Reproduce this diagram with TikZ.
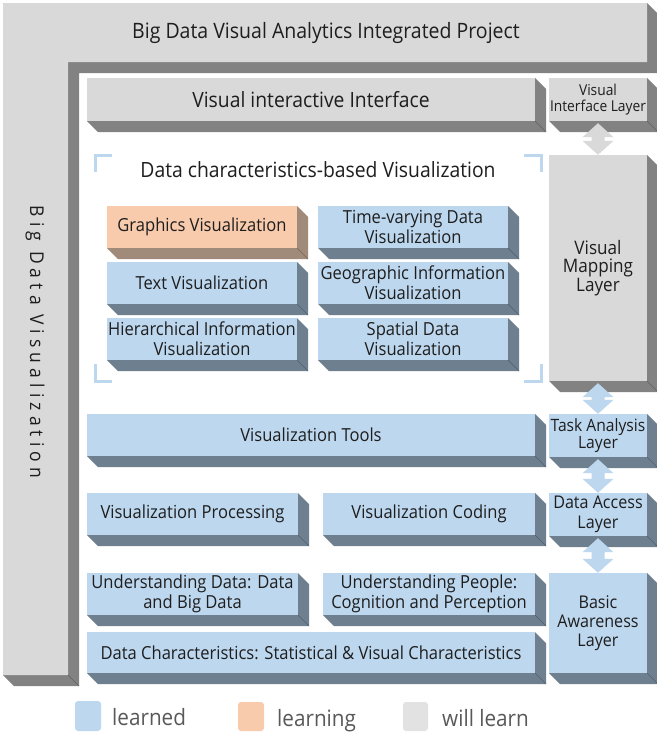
\documentclass[tikz,border=0pt]{standalone}
\usepackage{fontspec}
\setmainfont{Open Sans}[FakeStretch=0.92]
\newfontfamily\spacedfont{Open Sans}[FakeStretch=0.92,LetterSpace=27]
\usetikzlibrary{calc}
\definecolor{bluef}{HTML}{BDD7EE}
\definecolor{blues}{HTML}{6E7F8F}
\definecolor{orangef}{HTML}{F8CBAD}
\definecolor{oranges}{HTML}{A08A79}
\definecolor{grayf}{HTML}{D9D9D9}
\definecolor{grays}{HTML}{828282}
\definecolor{legtext}{HTML}{595959}
\definecolor{legg}{HTML}{E2E2E2}
\definecolor{txt}{HTML}{1E1E1E}
\tikzset{
  boxface/.style={inner sep=0pt, align=center, text=txt, font=\fontsize{18}{20}\selectfont},
  bracket/.style={draw=bluef, line width=3pt},
  legsq/.style={rounded corners=3pt},
  legtxt/.style={anchor=base west, inner sep=0pt, text=legtext, font=\fontsize{22.5}{25}\selectfont},
}
% #1 name, #2 x1, #3 y1, #4 x2, #5 y2, #6 face, #7 side, #8 text, #9 extra options
\newcommand{\cubebox}[9]{%
  \fill[#7] (#4,#3) -- ++(11,11) -- ({#4+11},{#5+11}) -- ({#2+11},{#5+11}) -- (#2,#5) -- (#4,#5) -- cycle;
  \draw[#7!75!black, line width=0.6pt] (#4,#5) -- ++(11,11);
  \node[boxface, fill=#6, minimum width={#4-#2}, minimum height={#5-#3}, #9] (#1) at ({(#2+#4)/2},{(#3+#5)/2}) {#8};
}
\newcommand{\dblarrow}[3]{%
  \fill[#3] let \p1=(#1.south), \p2=(#2.north) in
    (\x1,{\y1-2pt}) -- ({\x1+15.5pt},{\y1-16pt}) -- ({\x1+6.5pt},{\y1-16pt})
    -- ({\x1+6.5pt},{\y2+14pt}) -- ({\x1+15.5pt},{\y2+14pt}) -- (\x1,\y2)
    -- ({\x1-15.5pt},{\y2+14pt}) -- ({\x1-6.5pt},{\y2+14pt})
    -- ({\x1-6.5pt},{\y1-16pt}) -- ({\x1-15.5pt},{\y1-16pt}) -- cycle;
}
\begin{document}
\begin{tikzpicture}[x=1pt,y=-1pt]
\useasboundingbox (0,0) rectangle (656,736);
\fill[white] (0,0) rectangle (656,736);

% outer L frame
\fill[grays] (647,3) -- (658,14) -- (658,73) -- (79,73) -- (79,686) -- (14,686) -- (3,675) -- (68,675) -- (68,62) -- (647,62) -- cycle;
\draw[grays!75!black, line width=0.6pt] (68,675) -- (79,686);
\fill[grayf] (3,3) -- (647,3) -- (647,62) -- (68,62) -- (68,675) -- (3,675) -- cycle;
\node[inner sep=0pt, text=txt, font=\fontsize{21.2}{23}\selectfont] (proj) at (326,32.5) {Big Data Visual Analytics Integrated Project};
\node[inner sep=0pt, text=txt, rotate=-90, font=\spacedfont\fontsize{19}{21}\selectfont] (bdv) at (35,342) {Big Data Visualization};

% left area boxes
\cubebox{vii}{87}{78}{535}{121}{grayf}{grays}{Visual interactive Interface}{font=\fontsize{21}{23}\selectfont}
\cubebox{gv}{107}{206}{297}{248}{orangef}{oranges}{Graphics Visualization}{}
\cubebox{tv}{107}{262}{297}{304}{bluef}{blues}{Text Visualization}{}
\cubebox{hv}{107}{318}{297}{360}{bluef}{blues}{Hierarchical Information\\Visualization}{}
\cubebox{tvd}{318}{206}{508}{248}{bluef}{blues}{Time-varying Data\\Visualization}{}
\cubebox{gi}{318}{262}{508}{304}{bluef}{blues}{Geographic Information\\Visualization}{}
\cubebox{sd}{318}{318}{508}{360}{bluef}{blues}{Spatial Data\\Visualization}{}
\cubebox{vt}{87}{414}{535}{456}{bluef}{blues}{Visualization Tools}{}
\cubebox{vp}{87}{493}{298}{535}{bluef}{blues}{Visualization Processing}{}
\cubebox{vc}{323}{493}{535}{535}{bluef}{blues}{Visualization Coding}{}
\cubebox{ud}{87}{573}{298}{615}{bluef}{blues}{Understanding Data: Data\\and Big Data}{}
\cubebox{up}{323}{573}{535}{615}{bluef}{blues}{Understanding People:\\Cognition and Perception}{}
\cubebox{dc}{87}{632}{535}{673}{bluef}{blues}{Data Characteristics: Statistical \& Visual Characteristics}{}

% right column layers
\cubebox{vil}{549}{78}{647}{121}{grayf}{grays}{Visual\\Interface Layer}{font=\fontsize{15}{16.5}\selectfont}
\cubebox{vml}{549}{155}{647}{381}{grayf}{grays}{Visual\\Mapping\\Layer}{font=\fontsize{18.6}{18.5}\selectfont}
\cubebox{tal}{549}{414}{647}{457}{bluef}{blues}{Task Analysis\\Layer}{font=\fontsize{17}{16.5}\selectfont}
\cubebox{dal}{549}{493}{647}{536}{bluef}{blues}{Data Access\\Layer}{font=\fontsize{17.5}{20}\selectfont}
\cubebox{bal}{549}{573}{647}{673}{bluef}{blues}{Basic\\Awareness\\Layer}{font=\fontsize{17.5}{19}\selectfont}

% arrows between layers
\dblarrow{vil}{vml}{grayf}
\dblarrow{vml}{tal}{bluef}
\dblarrow{tal}{dal}{bluef}
\dblarrow{dal}{bal}{bluef}

% data characteristics-based visualization group
\node[inner sep=0pt, text=txt, font=\fontsize{21}{23}\selectfont] (dcv) at (318,170) {Data characteristics-based Visualization};
\draw[bracket] (95,172) -- (95,155) -- (112,155);
\draw[bracket] (524,155) -- (541,155) -- (541,172);
\draw[bracket] (95,364) -- (95,381) -- (112,381);
\draw[bracket] (524,381) -- (541,381) -- (541,364);

% legend
\fill[bluef, legsq] (75,701) rectangle (101,731);
\node[legtxt] (l1) at (112,725) {learned};
\fill[orangef, legsq] (238,702) rectangle (264,731);
\node[legtxt] (l2) at (277,726) {learning};
\fill[legg, legsq] (403,702) rectangle (428,731);
\node[legtxt] (l3) at (442,726) {will learn};
\end{tikzpicture}
\end{document}
